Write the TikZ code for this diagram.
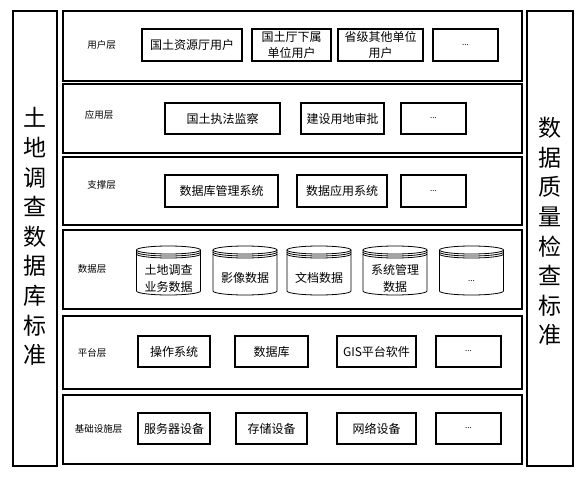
\documentclass[tikz,border=0pt]{standalone}
\usepackage{fontspec}
\setmainfont{Noto Sans CJK SC}
\begin{document}
\begin{tikzpicture}[x=1pt,y=-1pt,
  layer/.style={draw, line width=1.7pt, inner sep=0pt, outer sep=0pt},
  side/.style={draw, line width=1.7pt, inner sep=0pt, outer sep=0pt},
  itembox/.style={draw, line width=1.5pt, inner sep=0pt, outer sep=0pt, align=center,
    font=\fontsize{12}{16.5}\selectfont},
  lbl/.style={inner sep=0pt, font=\fontsize{9.5}{11}\selectfont},
  cyltext/.style={inner sep=0pt, align=center, font=\fontsize{12}{16.5}\selectfont},
  bigtext/.style={inner sep=0pt, align=center, font=\fontsize{23}{29.6}\selectfont},
  cylline/.style={line width=0.8pt}]
\useasboundingbox (0,0) rectangle (585,478);
\fill[white] (0,0) rectangle (585,478);

% side standards
\node[side, minimum width=44, minimum height=455] (sl) at (35,238.5) {};
\node[side, minimum width=46, minimum height=455] (sr) at (550,238.5) {};
\node[bigtext] (slt) at (35,236.5) {土\\地\\调\\查\\数\\据\\库\\标\\准};
\node[bigtext] (srt) at (550,231.5) {数\\据\\质\\量\\检\\查\\标\\准};

% layers
\node[layer, minimum width=459, minimum height=70] (L1) at (292.5,46) {};
\node[layer, minimum width=459, minimum height=69] (L2) at (292.5,118.5) {};
\node[layer, minimum width=459, minimum height=68] (L3) at (292.5,191) {};
\node[layer, minimum width=459, minimum height=79] (L4) at (292.5,269.5) {};
\node[layer, minimum width=459, minimum height=73] (L5) at (292.5,352.5) {};
\node[layer, minimum width=459, minimum height=69] (L6) at (292.5,429.5) {};

\node[lbl] (l1) at (101.5,45) {用户层};
\node[lbl] (l2) at (99,115) {应用层};
\node[lbl] (l3) at (101.5,185) {支撑层};
\node[lbl] (l4) at (92,269) {数据层};
\node[lbl] (l5) at (92,353) {平台层};
\node[lbl] (l6) at (98.5,429) {基础设施层};

% row 1
\node[itembox, minimum width=100, minimum height=32] (u1) at (192,45) {国土资源厅用户};
\node[itembox, minimum width=79, minimum height=32] (u2) at (291.5,45) {国土厅下属\\单位用户};
\node[itembox, minimum width=85, minimum height=32] (u3) at (380.5,45) {省级其他单位\\用户};
\node[itembox, minimum width=65, minimum height=32] (u4) at (465.5,45) {\fontsize{8}{9}\selectfont ...};
% row 2
\node[itembox, minimum width=115, minimum height=31] (a1) at (222.5,118.5) {国土执法监察};
\node[itembox, minimum width=83, minimum height=31] (a2) at (342.5,118.5) {建设用地审批};
\node[itembox, minimum width=65, minimum height=31] (a3) at (433.5,118.5) {\fontsize{8}{9}\selectfont ...};
% row 3
\node[itembox, minimum width=113, minimum height=32] (s1) at (221.5,191) {数据库管理系统};
\node[itembox, minimum width=90, minimum height=32] (s2) at (342,191) {数据应用系统};
\node[itembox, minimum width=65, minimum height=32] (s3) at (433.5,191) {\fontsize{8}{9}\selectfont ...};
% row 5
\node[itembox, minimum width=72, minimum height=31] (p1) at (174,351.5) {操作系统};
\node[itembox, minimum width=73, minimum height=31] (p2) at (271.5,351.5) {数据库};
\node[itembox, minimum width=79, minimum height=31] (p3) at (376.5,351.5) {GIS平台软件};
\node[itembox, minimum width=65, minimum height=31] (p4) at (468.5,351.5) {\fontsize{8}{9}\selectfont ...};
% row 6
\node[itembox, minimum width=72, minimum height=31] (i1) at (174,428.5) {服务器设备};
\node[itembox, minimum width=71, minimum height=31] (i2) at (271.5,428.5) {存储设备};
\node[itembox, minimum width=79, minimum height=31] (i3) at (376.5,428.5) {网络设备};
\node[itembox, minimum width=65, minimum height=31] (i4) at (468.5,428.5) {\fontsize{8}{9}\selectfont ...};

% cylinders (data layer)
\foreach \cx in {168.5,245,319,395,471.5}{
  \draw[cylline] (\cx,250) ellipse [x radius=32pt, y radius=4pt];
  \draw[cylline] (\cx-32,252) arc[start angle=180, end angle=360, x radius=32pt, y radius=4pt];
  \draw[cylline] (\cx-32,254) arc[start angle=180, end angle=360, x radius=32pt, y radius=4pt];
  \draw[cylline] (\cx-32,250) -- (\cx-32,291)
     arc[start angle=180, end angle=360, x radius=32pt, y radius=4pt] -- (\cx+32,250);
}
\node[cyltext] (d1) at (168.5,278.5) {土地调查\\业务数据};
\node[cyltext] (d2) at (245,278) {影像数据};
\node[cyltext] (d3) at (319,278) {文档数据};
\node[cyltext] (d4) at (395,278.5) {系统管理\\数据};
\node[cyltext] (d5) at (471.5,281) {\fontsize{8}{9}\selectfont ...};
\end{tikzpicture}
\end{document}
